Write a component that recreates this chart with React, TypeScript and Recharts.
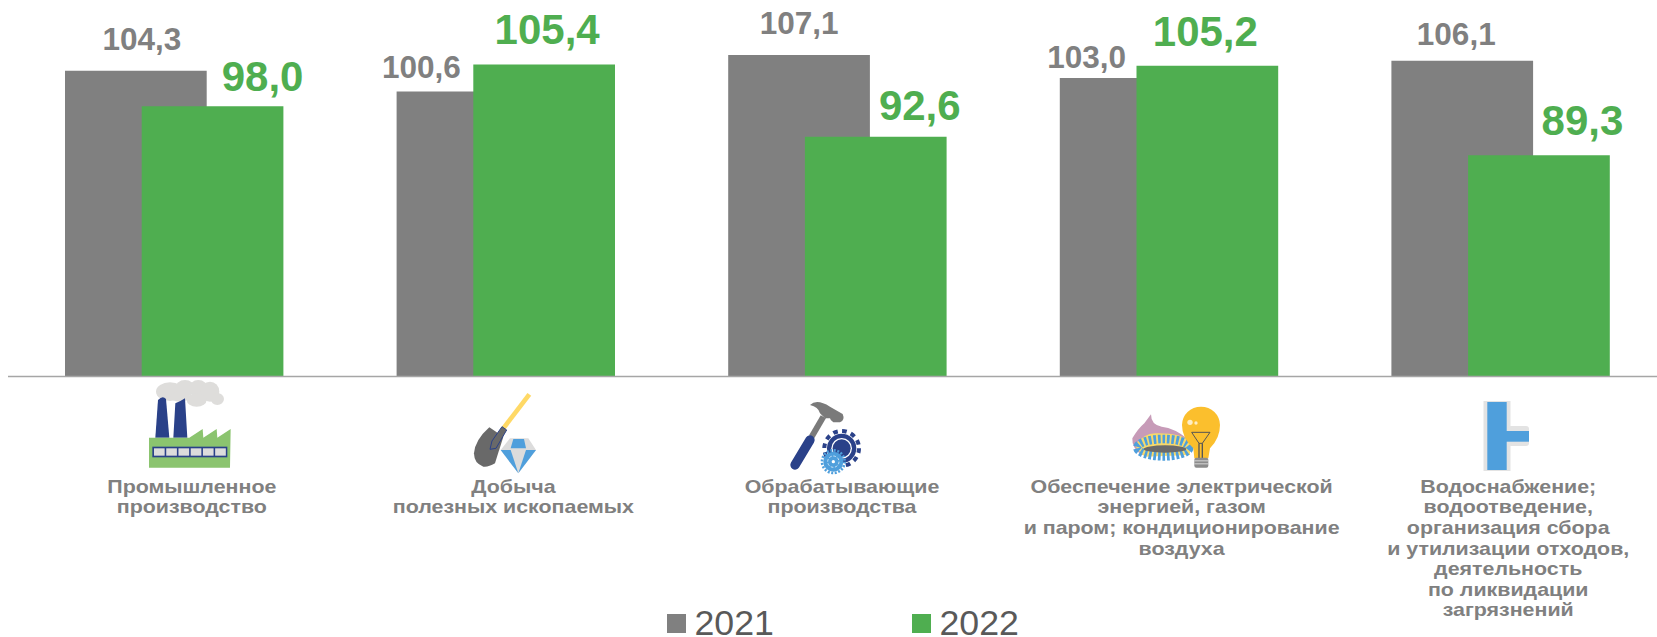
import React from "react";
import { BarChart, Bar, XAxis, YAxis, Legend, LabelList } from "recharts";

const categories = ["prom", "dob", "obr", "energy", "water"];
const values2021 = [104.3, 100.6, 107.1, 103.0, 106.1];
const values2022 = [98.0, 105.4, 92.6, 105.2, 89.3];
const categoryLines = [
  ["Промышленное", "производство"],
  ["Добыча", "полезных ископаемых"],
  ["Обрабатывающие", "производства"],
  ["Обеспечение электрической", "энергией, газом", "и паром; кондиционирование", "воздуха"],
  ["Водоснабжение;", "водоотведение,", "организация сбора", "и утилизации отходов,", "деятельность", "по ликвидации", "загрязнений"],
];
const seriesNames = ["2021", "2022"];

const GRAY = "#808080";
const GREEN = "#4fae50";
const NAVY = "#2a4189";
const SKY = "#4f9fdc";
const FONT = "'Liberation Sans', Arial, sans-serif";

const data = categories.map((c, i) => ({ c, y2021: values2021[i], y2022: values2022[i] }));

// label placement relative to the bar centre / bar top
const dx2021 = [6, -46, 0, -44, -6];
const dy2021 = [21, 14, 21, 10.5, 16];
const dx2022 = [50, 3, 44, -2, 43.5];
const dy2022 = [15, 21, 16.6, 20, 20.5];
const tickDx = [18, 8, 5, 13, 8];

const fmt = (v: number) => v.toFixed(1).replace(".", ",");

const makeLabel = (dxs: number[], dys: number[], color: string, size: number) => (p: any) => {
  const i = p.index;
  return (
    <text
      x={p.x + p.width / 2 + dxs[i]}
      y={p.y - dys[i]}
      textAnchor="middle"
      fill={color}
      fontFamily={FONT}
      fontWeight="bold"
      fontSize={size}
    >
      {fmt(p.value)}
    </text>
  );
};

const Factory = () => (
  <g transform="translate(130,375) scale(0.3333)">
    {[
      [120, 50, 42, 28],
      [165, 40, 30, 25],
      [205, 40, 28, 25],
      [240, 50, 28, 30],
      [262, 72, 20, 18],
      [200, 75, 30, 20],
      [150, 65, 30, 15],
    ].map(([cx, cy, rx, ry]) => (
      <ellipse key={cx} cx={cx} cy={cy} rx={rx} ry={ry} fill="#dedddb" />
    ))}
    <path d="M76,188 L84,75 Q98,60 108,72 L118,188 Z" fill={NAVY} />
    <path d="M130,188 L136,85 Q150,80 165,70 L172,188 Z" fill={NAVY} />
    <polygon points="57,188 178,188 218,162 220,188 260,162 262,188 302,162 300,278 57,278" fill="#8bc46f" />
    <rect x="67" y="215" width="225" height="32" fill={NAVY} />
    {[0, 1, 2, 3, 4, 5].map((k) => (
      <rect key={k} x={72 + k * 36.7} y="220" width="32" height="22" fill="#dcdcdc" />
    ))}
  </g>
);

const Shovel = () => (
  <g transform="translate(460,385) scale(0.3333)">
    <line x1="130" y1="130" x2="208" y2="28" stroke="#ffd966" strokeWidth="14" />
    <path d="M88,127 L130,155 L105,235 Q85,247 70,245 Q42,235 42,205 Q45,165 88,127 Z" fill="#696969" />
    <polygon points="126,125 140,135 108,190 90,193 96,168" fill="#696969" stroke={NAVY} strokeWidth="3" />
    <polygon points="150,160 205,160 228,195 175,265 122,195" fill="#dcdcdc" />
    <polygon points="160,162 192,162 198,190 152,190" fill={SKY} />
    <polygon points="122,195 152,195 175,265" fill={SKY} />
    <polygon points="198,195 228,195 175,265" fill={SKY} />
  </g>
);

const Tools = () => (
  <g transform="translate(780,390) scale(0.3333)">
    <line x1="95" y1="140" x2="130" y2="80" stroke="#7a7a7a" strokeWidth="18" />
    <line x1="45" y1="225" x2="90" y2="150" stroke={NAVY} strokeWidth="28" strokeLinecap="round" />
    <path d="M90,45 Q110,25 150,50 L188,72 Q196,90 180,97 L160,97 Q150,90 150,85 L135,85 L120,70 Q115,50 90,45 Z" fill="#7a7a7a" />
    <circle cx="185" cy="175" r="52" fill="none" stroke={NAVY} strokeWidth="12" strokeDasharray="14 13.2" />
    <circle cx="185" cy="175" r="44" fill={NAVY} />
    <circle cx="185" cy="175" r="31" fill="#fff" />
    <circle cx="185" cy="175" r="27" fill={NAVY} />
    <circle cx="160" cy="215" r="34" fill="none" stroke={SKY} strokeWidth="8" strokeDasharray="6 4.7" />
    <circle cx="160" cy="215" r="30" fill={SKY} />
    <circle cx="160" cy="215" r="17" fill="none" stroke="#fff" strokeWidth="2" strokeDasharray="8 5" />
    <circle cx="160" cy="215" r="5" fill="#fff" />
  </g>
);

const Energy = () => (
  <g transform="translate(1125,395) scale(0.3333)">
    <path d="M22,130 Q40,100 58,85 L78,58 Q78,90 110,95 Q150,100 185,130 L195,175 L50,180 Q20,160 22,130 Z" fill="#c79bb8" />
    <path d="M30,150 Q60,110 100,115 Q170,115 195,140 L195,180 L60,185 Q40,170 30,150 Z" fill="#f6d96b" />
    <ellipse cx="115" cy="158" rx="78" ry="26" fill="none" stroke={SKY} strokeWidth="26" strokeDasharray="8 5.5" />
    <ellipse cx="120" cy="162" rx="64" ry="11" fill="#6b6b6b" />
    <path d="M171,90 A57,55 0 1 1 285,90 Q285,130 255,160 L250,190 L208,190 L205,160 Q171,130 171,90 Z" fill="#fbbf2d" />
    <polygon points="200,112 255,112 232,145 222,145" fill="none" stroke="#555" strokeWidth="3" />
    <line x1="222" y1="145" x2="222" y2="190" stroke="#555" strokeWidth="4" />
    <line x1="232" y1="145" x2="232" y2="190" stroke="#555" strokeWidth="4" />
    <rect x="208" y="188" width="42" height="30" rx="6" fill="#8c8c8c" />
    <rect x="208" y="196" width="42" height="3" fill="#d8d8d8" />
    <rect x="208" y="205" width="42" height="3" fill="#d8d8d8" />
    <circle cx="195" cy="82" r="8" fill="#ffeec4" />
    <circle cx="213" cy="84" r="5" fill="#ffeec4" />
  </g>
);

const Pipe = () => (
  <g>
    <rect x="1483.5" y="401" width="27" height="70" fill="#e3e3e3" />
    <rect x="1508" y="426" width="21" height="20" rx="3" fill="#e3e3e3" />
    <rect x="1487.3" y="402" width="19.4" height="68" fill={SKY} />
    <rect x="1505" y="431" width="24" height="10.7" fill={SKY} />
  </g>
);

const icons = [Factory, Shovel, Tools, Energy, Pipe];

const CategoryTick = (p: any) => {
  const i = p.index;
  const Icon = icons[i];
  const firstBaseline = 492.7;
  const step = 20.6;
  return (
    <g>
      <Icon />
      {categoryLines[i].map((l, k) => (
        <text
          key={k}
          transform={`translate(${p.x + tickDx[i]},${firstBaseline + k * step}) scale(1.126,1)`}
          textAnchor="middle"
          fill={GRAY}
          fontFamily={FONT}
          fontWeight="bold"
          fontSize={19}
        >
          {l}
        </text>
      ))}
    </g>
  );
};

const LegendContent = (p: any) => (
  <div style={{ position: "relative", width: 400, height: 29 }}>
    {p.payload.map((e: any, k: number) => (
      <div key={e.value} style={{ position: "absolute", left: k * 245, top: 0, height: 29, whiteSpace: "nowrap" }}>
        <span style={{ position: "absolute", left: 0, top: 6, width: 19, height: 19, background: e.color }} />
        <span
          style={{
            position: "absolute",
            left: 27.5,
            top: -5,
            fontFamily: FONT,
            fontSize: 35.7,
            lineHeight: "41px",
            color: "#595959",
          }}
        >
          {e.value}
        </span>
      </div>
    ))}
  </div>
);

export default function App() {
  return (
    <div style={{ position: "absolute", left: 0, top: 0, width: 1657, height: 637, overflow: "hidden" }}>
      <BarChart
        width={1666}
        height={637}
        data={data}
        margin={{ top: 38.7, right: 0, bottom: 0, left: 8 }}
        barSize={141.7}
        barGap={-65}
      >
        <XAxis
          dataKey="c"
          height={260.5}
          axisLine={{ stroke: "#a6a6a6", strokeWidth: 1.5 }}
          tickLine={false}
          interval={0}
          tick={<CategoryTick />}
        />
        <YAxis hide domain={[50, 110]} />
        <Legend
          layout="horizontal"
          verticalAlign="middle"
          align="center"
          content={<LegendContent />}
          wrapperStyle={{ left: 667, top: 608, width: 400, height: 29 }}
        />
        <Bar dataKey="y2021" name={seriesNames[0]} fill={GRAY} isAnimationActive={false}>
          <LabelList dataKey="y2021" content={makeLabel(dx2021, dy2021, GRAY, 31.5)} />
        </Bar>
        <Bar dataKey="y2022" name={seriesNames[1]} fill={GREEN} isAnimationActive={false}>
          <LabelList dataKey="y2022" content={makeLabel(dx2022, dy2022, GREEN, 42)} />
        </Bar>
      </BarChart>
    </div>
  );
}
